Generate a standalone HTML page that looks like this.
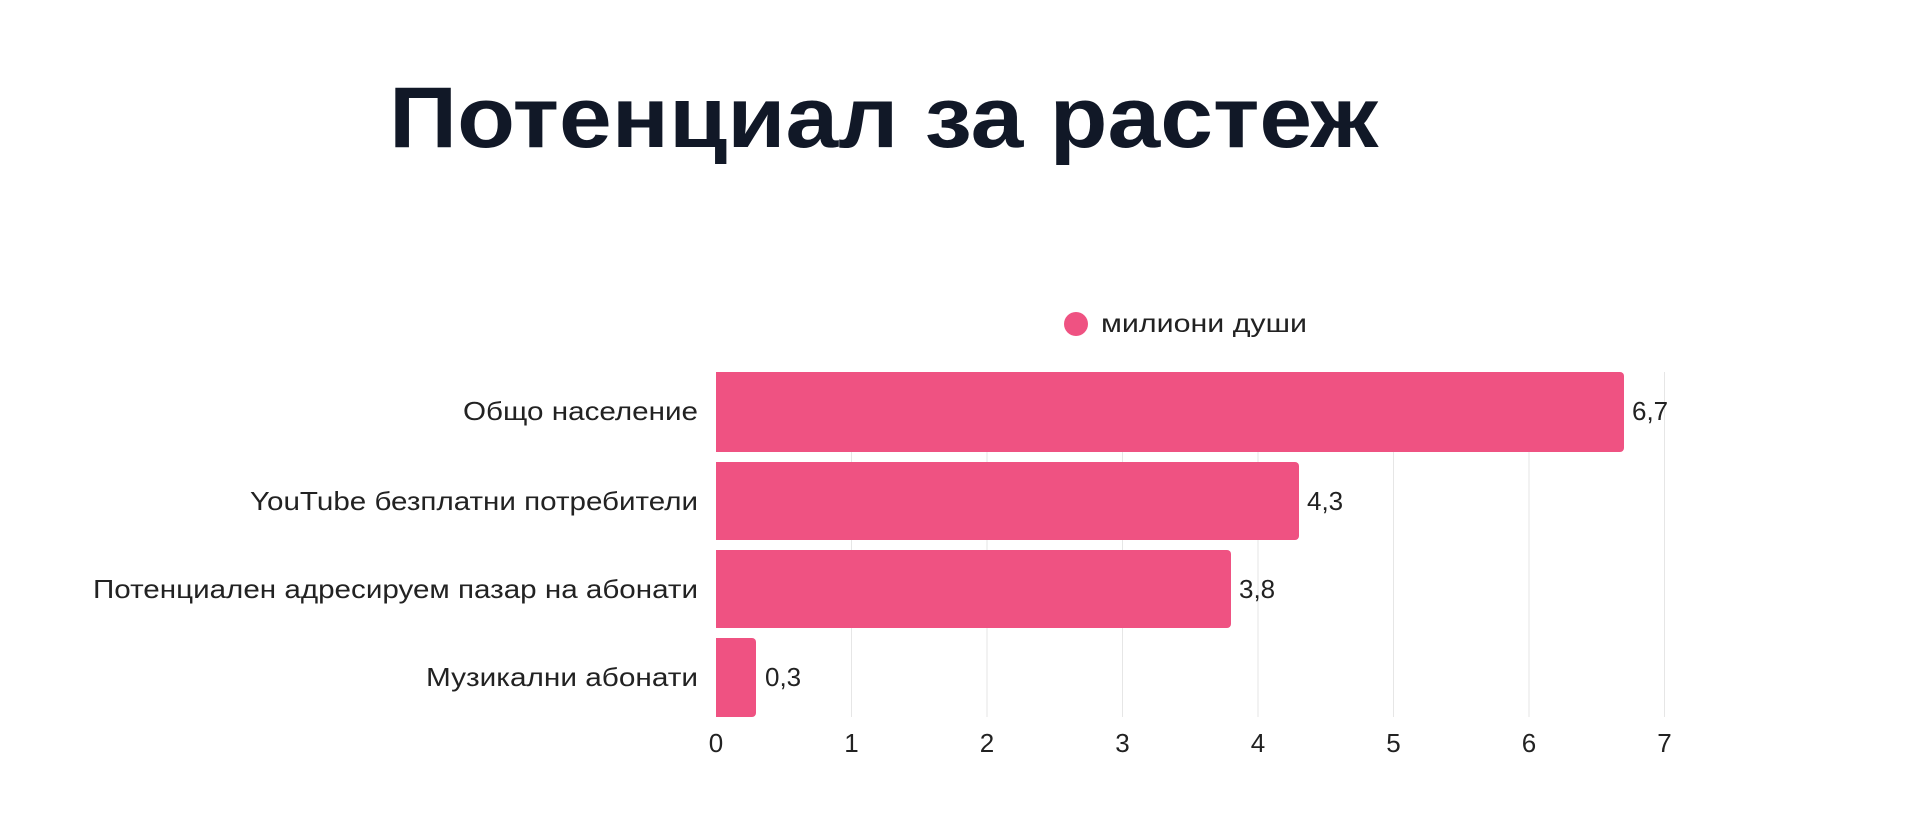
<!DOCTYPE html>
<html><head><meta charset="utf-8"><style>
html,body{margin:0;padding:0;background:#fff;}
svg{display:block;font-family:"Liberation Sans","DejaVu Sans",sans-serif;}
</style></head><body>
<svg width="1920" height="832" viewBox="0 0 1920 832" xmlns="http://www.w3.org/2000/svg">
<rect width="1920" height="832" fill="#fff"/>
<text x="389" y="147" font-size="86" font-weight="bold" fill="#111827" textLength="989" lengthAdjust="spacingAndGlyphs">Потенциал за растеж</text>
<circle cx="1076" cy="324" r="12" fill="#ef5282"/>
<text x="1101" y="332" font-size="25" fill="#222" textLength="206" lengthAdjust="spacingAndGlyphs">милиони души</text>
<g stroke="#e6e6e6" stroke-width="1">
<line x1="851.5" y1="372" x2="851.5" y2="717"/>
<line x1="987" y1="372" x2="987" y2="717"/>
<line x1="1122.5" y1="372" x2="1122.5" y2="717"/>
<line x1="1258" y1="372" x2="1258" y2="717"/>
<line x1="1393.5" y1="372" x2="1393.5" y2="717"/>
<line x1="1529" y1="372" x2="1529" y2="717"/>
<line x1="1664.5" y1="372" x2="1664.5" y2="717"/>
</g>
<g fill="#ef5282">
<path d="M716 372 H1620 a4 4 0 0 1 4 4 V448 a4 4 0 0 1 -4 4 H716Z"/>
<path d="M716 462 H1295 a4 4 0 0 1 4 4 V536 a4 4 0 0 1 -4 4 H716Z"/>
<path d="M716 550 H1227 a4 4 0 0 1 4 4 V624 a4 4 0 0 1 -4 4 H716Z"/>
<path d="M716 638 H752 a4 4 0 0 1 4 4 V713 a4 4 0 0 1 -4 4 H716Z"/>
</g>
<g font-size="26" fill="#222" text-anchor="end">
<text x="698" y="420" textLength="235" lengthAdjust="spacingAndGlyphs">Общо население</text>
<text x="698" y="510" textLength="448" lengthAdjust="spacingAndGlyphs">YouTube безплатни потребители</text>
<text x="698" y="598" textLength="605" lengthAdjust="spacingAndGlyphs">Потенциален адресируем пазар на абонати</text>
<text x="698" y="686" textLength="272" lengthAdjust="spacingAndGlyphs">Музикални абонати</text>
</g>
<g font-size="26" fill="#222">
<text x="1632" y="420">6,7</text>
<text x="1307" y="510">4,3</text>
<text x="1239" y="598">3,8</text>
<text x="765" y="686">0,3</text>
</g>
<g font-size="26" fill="#222" text-anchor="middle">
<text x="716" y="752">0</text>
<text x="851.5" y="752">1</text>
<text x="987" y="752">2</text>
<text x="1122.5" y="752">3</text>
<text x="1258" y="752">4</text>
<text x="1393.5" y="752">5</text>
<text x="1529" y="752">6</text>
<text x="1664.5" y="752">7</text>
</g>
</svg>
</body></html>
